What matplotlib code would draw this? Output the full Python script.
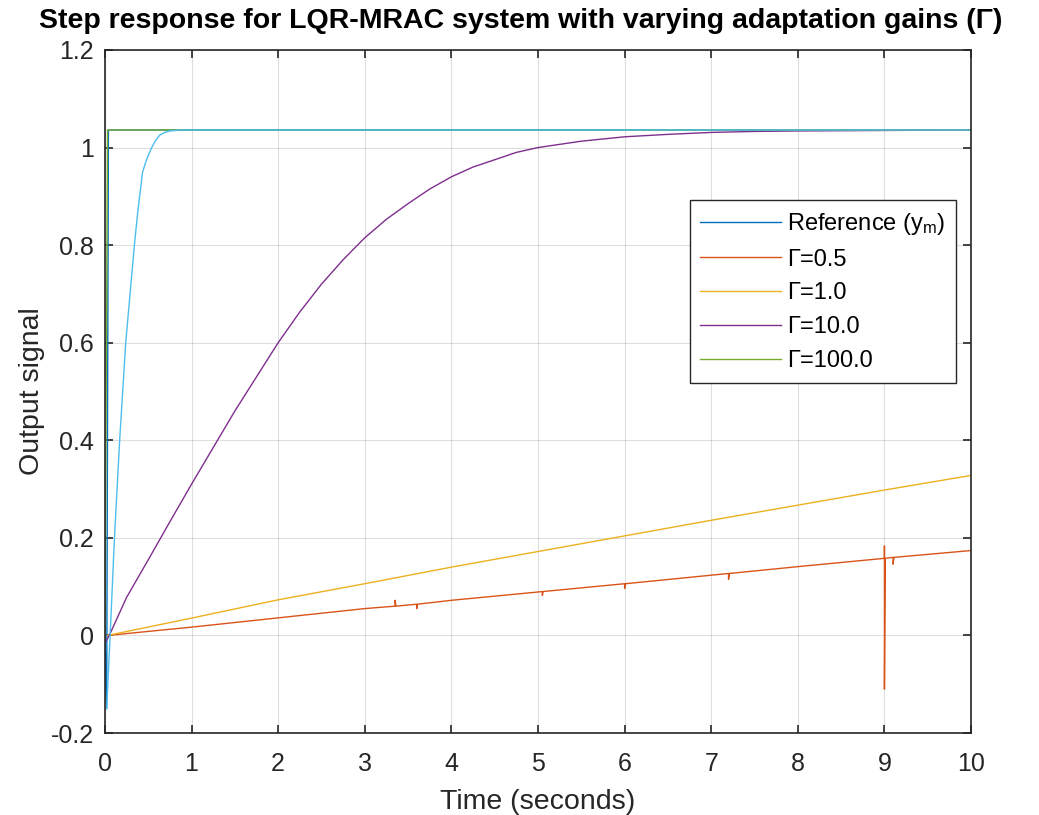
import matplotlib
matplotlib.use("Agg")
import matplotlib.pyplot as plt

plt.rcParams['font.family'] = ['Liberation Sans', 'DejaVu Sans']
plt.rcParams['mathtext.fontset'] = 'custom'
plt.rcParams['mathtext.rm'] = 'Liberation Sans'
plt.rcParams['mathtext.it'] = 'Liberation Sans'

# Reference model (mostly hidden under the other curves)
ref_t = [0, 0.02, 0.04, 10]
ref_y = [0, -0.15, 1.036, 1.036]

# Gamma = 0.5 (with spikes)
g05_t = [0.03, 1, 2, 3, 3.35, 3.35, 3.36, 3.6, 3.6, 3.61, 4, 5, 5.05, 5.05, 5.06,
         6, 6, 6.01, 7.2, 7.2, 7.21, 8, 9.0, 9.0, 9.0, 9.01, 9.1, 9.1, 9.11, 10]
g05_y = [0, 0.017, 0.036, 0.055, 0.060, 0.072, 0.060, 0.064, 0.055, 0.064, 0.072,
         0.089, 0.090, 0.082, 0.090, 0.106, 0.096, 0.106, 0.127, 0.115, 0.127, 0.141,
         0.158, 0.183, -0.11, 0.158, 0.160, 0.146, 0.160, 0.174]

# Gamma = 1.0
g1_t = [0.03, 1, 2, 3, 4, 5, 6, 7, 8, 9, 10]
g1_y = [0, 0.0355, 0.073, 0.106, 0.14, 0.172, 0.204, 0.236, 0.267, 0.298, 0.328]

# Gamma = 10.0
g10_t = [0, 0.05, 0.25, 0.5, 0.75, 1, 1.25, 1.5, 1.75, 2, 2.25, 2.5, 2.75, 3, 3.25,
         3.5, 3.75, 4, 4.25, 4.5, 4.75, 5, 5.5, 6, 6.5, 7, 7.5, 8, 9, 10]
g10_y = [-0.015, 0.0, 0.078, 0.155, 0.233, 0.31, 0.385, 0.46, 0.53, 0.60, 0.663,
         0.72, 0.77, 0.815, 0.853, 0.885, 0.915, 0.94, 0.96, 0.975, 0.99, 1.0, 1.013,
         1.022, 1.027, 1.031, 1.033, 1.034, 1.035, 1.036]

# Gamma = 100.0
g100_t = [0, 0.03, 10]
g100_y = [0, 1.036, 1.036]

# extra (unlabelled) fast response
fast_t = [0.02, 0.06, 0.11, 0.17, 0.24, 0.34, 0.38, 0.435, 0.48, 0.54, 0.58, 0.63,
          0.69, 0.75, 0.82, 0.9, 1.0, 10]
fast_y = [-0.15, 0.0, 0.2, 0.4, 0.6, 0.8, 0.87, 0.95, 0.975, 1.0, 1.013, 1.025,
          1.031, 1.034, 1.035, 1.036, 1.036, 1.036]

fig = plt.figure(figsize=(10.39, 8.15), dpi=100)
ax = fig.add_axes([0.101, 0.1006, 0.8336, 0.8381])

lw = 1.0
h_ref, = ax.plot(ref_t, ref_y, color='#0072BD', lw=lw, label='Reference (y$_\\mathregular{m}$)')
h05, = ax.plot(g05_t, g05_y, color='#D95319', lw=lw, label='\u0393=0.5')
h1, = ax.plot(g1_t, g1_y, color='#EDB120', lw=lw, label='\u0393=1.0')
h10, = ax.plot(g10_t, g10_y, color='#7E2F8E', lw=lw, label='\u0393=10.0')
h100, = ax.plot(g100_t, g100_y, color='#77AC30', lw=lw, label='\u0393=100.0')
ax.plot(fast_t, fast_y, color='#4DBEEE', lw=lw)

ax.set_xlim(0, 10)
ax.set_ylim(-0.2, 1.2)
ax.set_xticks(range(0, 11))
ax.set_yticks([-0.2, 0, 0.2, 0.4, 0.6, 0.8, 1.0, 1.2])
ax.set_yticklabels(['-0.2', '0', '0.2', '0.4', '0.6', '0.8', '1', '1.2'])
ax.grid(True, color='#262626', alpha=0.15, lw=0.8)
ax.tick_params(direction='in', top=True, right=True, labelsize=18,
               color='#262626', labelcolor='#262626', length=6, width=1.2)
ax.tick_params(axis='x', pad=14)
ax.tick_params(axis='y', pad=8)
for s in ax.spines.values():
    s.set_color('#262626')
    s.set_linewidth(1.2)

ax.set_xlabel('Time (seconds)', fontsize=20.5, color='#262626', labelpad=9)
ax.set_ylabel('Output signal', fontsize=20.5, color='#262626', labelpad=4)
fig.text(0.5015, 1 - 21 / 815,
         'Step response for LQR-MRAC system with varying adaptation gains (\u0393)',
         fontsize=20.5, fontweight='bold', ha='center', va='center')

leg = ax.legend(handles=[h_ref, h05, h1, h10, h100], loc='upper left',
                bbox_to_anchor=(0.6753, 0.780), borderaxespad=0, fontsize=17,
                frameon=True, fancybox=False, handlelength=3.4, borderpad=0.45,
                labelspacing=0.5, handletextpad=0.25)
leg.get_frame().set_edgecolor('#262626')
leg.get_frame().set_linewidth(1.0)
leg.get_frame().set_alpha(1)

fig.savefig('out.png', dpi=100)
